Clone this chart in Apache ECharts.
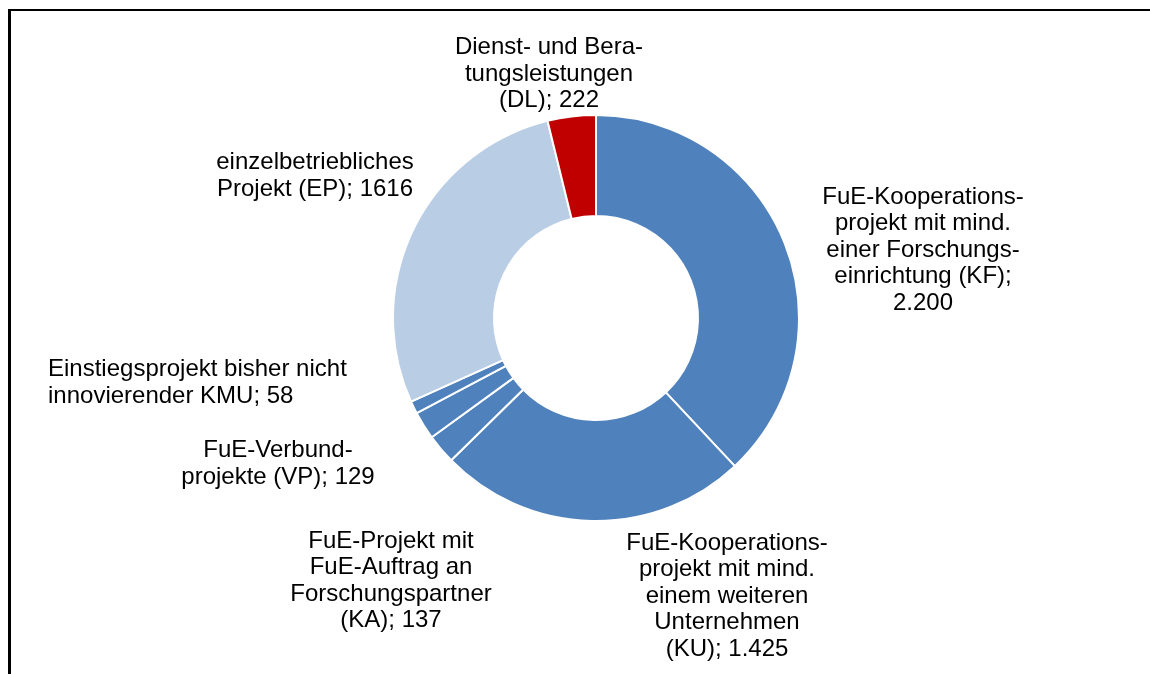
<!DOCTYPE html>
<html>
<head>
<meta charset="utf-8">
<script src="https://cdn.jsdelivr.net/npm/echarts@6/dist/echarts.min.js"></script>
<style>
html,body{margin:0;padding:0;background:#fff;}
#chart{width:1150px;height:674px;}
</style>
</head>
<body>
<div id="chart"></div>
<script>
// Segmente im Uhrzeigersinn ab 12 Uhr
var categories = ['KF', 'KU', 'KA', 'VP', 'EK', 'EP', 'DL'];
var values = [2200, 1425, 137, 129, 58, 1616, 222];
var labelTexts = [
	'FuE-Kooperations-\nprojekt mit mind.\neiner Forschungs-\neinrichtung (KF);\n2.200',
	'FuE-Kooperations-\nprojekt mit mind.\neinem weiteren\nUnternehmen\n(KU); 1.425',
	'FuE-Projekt mit\nFuE-Auftrag an\nForschungspartner\n(KA); 137',
	'FuE-Verbund-\nprojekte (VP); 129',
	'Einstiegsprojekt bisher nicht\ninnovierender KMU; 58',
	'einzelbetriebliches\nProjekt (EP); 1616',
	'Dienst- und Bera-\ntungsleistungen\n(DL); 222'
];
var colors = ['#4F81BD', '#4F81BD', '#4F81BD', '#4F81BD', '#4F81BD', '#B9CDE5', '#C00000'];

// Lage der Beschriftungen (Mitte des Textblocks)
var labelPos = [
	{x: 923, y: 250, align: 'center'},
	{x: 727, y: 596, align: 'center'},
	{x: 391, y: 581, align: 'center'},
	{x: 278, y: 464, align: 'center'},
	{x: 48, y: 383, align: 'left'},
	{x: 315, y: 176, align: 'center'},
	{x: 549, y: 74, align: 'center'}
];

var chart = echarts.init(document.getElementById('chart'));

var data = categories.map(function(c, i){
	return {
		name: c,
		value: values[i],
		itemStyle: {color: colors[i]},
		label: {formatter: labelTexts[i], align: labelPos[i].align}
	};
});

var option = {
	animation: false,
	backgroundColor: '#fff',
	graphic: [
		{type: 'rect', shape: {x: 8, y: 9, width: 3, height: 665}, style: {fill: '#000'}},
		{type: 'rect', shape: {x: 8, y: 9, width: 1142, height: 2}, style: {fill: '#000'}}
	],
	series: [{
		type: 'pie',
		center: [596, 318],
		radius: [102, 203],
		startAngle: 90,
		clockwise: true,
		avoidLabelOverlap: false,
		itemStyle: {borderColor: '#fff', borderWidth: 2},
		label: {
			show: true,
			position: 'outside',
			color: '#000',
			fontFamily: 'Liberation Sans, Arial, sans-serif',
			fontSize: 24,
			lineHeight: 26.5
		},
		labelLine: {show: false},
		labelLayout: function(params){
			var p = labelPos[params.dataIndex];
			return {x: p.x, y: p.y, align: p.align, verticalAlign: 'middle'};
		},
		emphasis: {disabled: true},
		data: data
	}]
};
chart.setOption(option);
</script>
</body>
</html>
